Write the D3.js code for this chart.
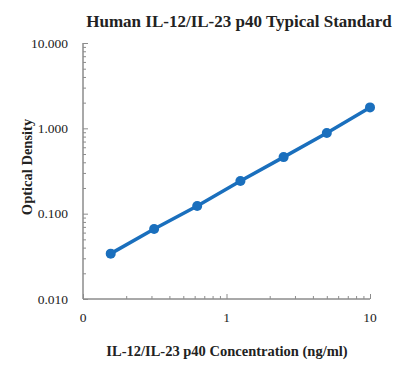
<!DOCTYPE html>
<html>
<head>
<meta charset="utf-8">
<script src="https://cdn.jsdelivr.net/npm/d3@7"></script>
<style>
  body { margin: 0; background: #fff; }
  text { font-family: "Liberation Serif", "Times New Roman", serif; fill: #222; }
</style>
</head>
<body>
<div id="chart"></div>
<script>
// standard curve values
var concentrations = [0.156, 0.313, 0.625, 1.25, 2.5, 5, 10];
var opticalDensity = [0.034, 0.066, 0.123, 0.242, 0.46, 0.88, 1.76];
var xTickValues = [0.1, 1, 10];
var xTickLabels = ["0", "1", "10"];
var yTickValues = [0.01, 0.1, 1, 10];
var yTickLabels = ["0.010", "0.100", "1.000", "10.000"];

var width = 395, height = 373;
var margin = { top: 43, right: 25, bottom: 74, left: 83 };

var svg = d3.select("#chart").append("svg")
    .attr("width", width)
    .attr("height", height);

var x = d3.scaleLog().domain([0.1, 10]).range([margin.left, width - margin.right]);
var y = d3.scaleLog().domain([0.01, 10]).range([height - margin.bottom, margin.top]);

// minor ticks inside the plot, every 2..9 per decade
function minorTicks(lo, hi) {
    var out = [];
    for (var e = Math.log10(lo); e < Math.log10(hi); e++) {
        for (var k = 2; k <= 9; k++) out.push(k * Math.pow(10, e));
    }
    return out;
}

var axisColor = "#8c8c8c";

// y axis
var yAxis = svg.append("g").attr("transform", "translate(" + margin.left + ",0)");
yAxis.call(d3.axisRight(y).tickValues(minorTicks(0.01, 10)).tickSize(3).tickFormat(""));
yAxis.append("g").call(d3.axisRight(y).tickValues(yTickValues).tickSize(5).tickFormat(""));
yAxis.selectAll("path, line").attr("stroke", axisColor);
yAxis.selectAll(".domain").attr("d", "M0," + y(10) + "V" + y(0.01));

svg.selectAll(".ylab").data(yTickValues).enter().append("text")
    .attr("class", "ylab")
    .attr("x", 68)
    .attr("y", function (d) { return y(d) + 4.5; })
    .attr("text-anchor", "end")
    .style("font-size", "13.5px")
    .text(function (d, i) { return yTickLabels[i]; });

// x axis
var xAxis = svg.append("g").attr("transform", "translate(0," + (height - margin.bottom) + ")");
xAxis.call(d3.axisTop(x).tickValues(minorTicks(0.1, 10)).tickSize(3).tickFormat(""));
xAxis.append("g").call(d3.axisTop(x).tickValues(xTickValues).tickSize(5).tickFormat(""));
xAxis.selectAll("path, line").attr("stroke", axisColor);
xAxis.selectAll(".domain").attr("d", "M" + x(0.1) + ",0H" + x(10));

svg.selectAll(".xlab").data(xTickValues).enter().append("text")
    .attr("class", "xlab")
    .attr("x", function (d) { return x(d); })
    .attr("y", height - margin.bottom + 23)
    .attr("text-anchor", "middle")
    .style("font-size", "13.5px")
    .text(function (d, i) { return xTickLabels[i]; });

// titles
svg.append("text")
    .attr("x", 239).attr("y", 27)
    .attr("text-anchor", "middle")
    .style("font-size", "17px").style("font-weight", "bold")
    .text("Human IL-12/IL-23 p40 Typical Standard");

svg.append("text")
    .attr("x", 227).attr("y", 356)
    .attr("text-anchor", "middle")
    .style("font-size", "14.5px").style("font-weight", "bold")
    .text("IL-12/IL-23 p40 Concentration (ng/ml)");

svg.append("text")
    .attr("transform", "translate(32,167) rotate(-90)")
    .attr("text-anchor", "middle")
    .style("font-size", "14.5px").style("font-weight", "bold")
    .text("Optical Density");

// data
var data = concentrations.map(function (c, i) { return { c: c, od: opticalDensity[i] }; });
var blue = "#1a6fbd";

svg.append("path")
    .datum(data)
    .attr("fill", "none")
    .attr("stroke", blue)
    .attr("stroke-width", 3.5)
    .attr("stroke-linecap", "round")
    .attr("d", d3.line().x(function (d) { return x(d.c); }).y(function (d) { return y(d.od); }));

svg.selectAll(".pt").data(data).enter().append("circle")
    .attr("class", "pt")
    .attr("cx", function (d) { return x(d.c); })
    .attr("cy", function (d) { return y(d.od); })
    .attr("r", 5)
    .attr("fill", blue);
</script>
</body>
</html>
